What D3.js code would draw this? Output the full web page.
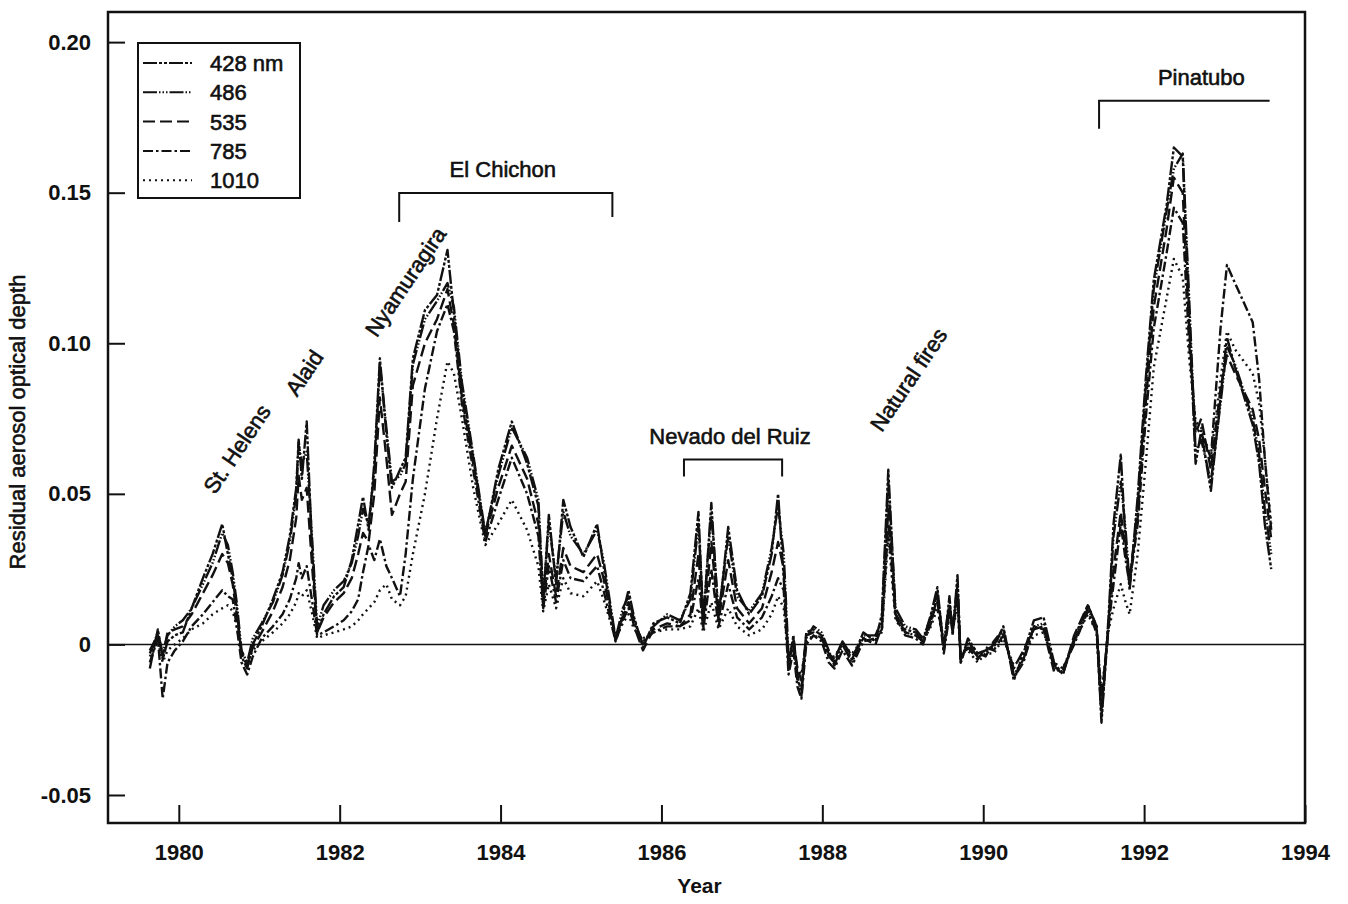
<!DOCTYPE html>
<html>
<head>
<meta charset="utf-8">
<script src="https://cdn.jsdelivr.net/npm/d3@7"></script>
<style>
  body { margin: 0; background: #fff; }
  text { font-family: "Liberation Sans", Arial, sans-serif; fill: #111; }
  .heavy { stroke: #111; stroke-width: 0.6px; }
</style>
</head>
<body>
<div id="aerosol-chart"></div>
<script>
// decimal years sampled along the record
const dates = [1979.64,1979.74,1979.80,1979.86,1979.95,1980.05,1980.16,1980.30,1980.42,1980.54,
  1980.61,1980.67,1980.72,1980.78,1980.85,1980.92,1981.03,1981.17,1981.29,1981.38,
  1981.46,1981.49,1981.53,1981.59,1981.66,1981.72,1981.80,1981.93,1982.05,1982.15,
  1982.23,1982.29,1982.36,1982.43,1982.50,1982.58,1982.65,1982.75,1982.82,1982.91,
  1983.06,1983.21,1983.34,1983.42,1983.52,1983.66,1983.81,1983.97,1984.14,1984.33,
  1984.47,1984.53,1984.60,1984.69,1984.78,1984.87,1985.03,1985.20,1985.28,1985.43,
  1985.52,1985.59,1985.66,1985.77,1985.90,1986.07,1986.23,1986.36,1986.46,1986.52,
  1986.62,1986.71,1986.83,1986.94,1987.09,1987.25,1987.37,1987.45,1987.52,1987.58,
  1987.64,1987.69,1987.74,1987.80,1987.89,1987.99,1988.08,1988.15,1988.25,1988.37,
  1988.51,1988.66,1988.74,1988.82,1988.91,1989.03,1989.16,1989.25,1989.35,1989.43,
  1989.51,1989.58,1989.62,1989.68,1989.72,1989.81,1989.93,1990.03,1990.13,1990.25,
  1990.38,1990.50,1990.63,1990.75,1990.88,1990.99,1991.13,1991.30,1991.41,1991.47,
  1991.56,1991.62,1991.71,1991.77,1991.82,1991.92,1992.02,1992.12,1992.28,1992.37,
  1992.48,1992.56,1992.64,1992.71,1992.83,1992.95,1993.03,1993.13,1993.35,1993.43,
  1993.50,1993.58];

const s428 = [-0.008,0.005,-0.005,0.001,0.003,0.004,0.012,0.022,0.030,0.040,
  0.030,0.022,0.012,-0.004,-0.008,0.000,0.006,0.015,0.024,0.036,
  0.052,0.068,0.055,0.074,0.030,0.004,0.010,0.016,0.019,0.028,
  0.040,0.049,0.038,0.060,0.095,0.070,0.052,0.058,0.062,0.095,
  0.111,0.116,0.131,0.110,0.085,0.062,0.036,0.058,0.074,0.060,
  0.046,0.014,0.043,0.020,0.048,0.039,0.029,0.040,0.026,0.001,
  0.010,0.018,0.009,-0.001,0.007,0.009,0.007,0.017,0.044,0.007,
  0.047,0.008,0.039,0.018,0.010,0.016,0.030,0.050,0.022,-0.008,
  0.003,-0.010,-0.017,0.004,0.005,0.003,-0.004,-0.006,0.001,-0.005,
  0.004,0.001,0.010,0.058,0.010,0.005,0.004,0.001,0.010,0.019,
  -0.002,0.016,0.003,0.023,-0.006,0.002,-0.003,-0.002,-0.001,0.006,
  -0.012,-0.003,0.008,0.009,-0.006,-0.010,0.002,0.013,0.006,-0.026,
  0.010,0.040,0.063,0.034,0.018,0.049,0.088,0.121,0.146,0.165,
  0.162,0.110,0.060,0.071,0.051,0.082,0.102,0.092,0.073,0.060,
  0.040,0.025];

const s486 = [-0.003,0.004,-0.003,0.003,0.006,0.008,0.012,0.020,0.027,0.037,
  0.033,0.024,0.014,-0.002,-0.006,0.002,0.007,0.014,0.023,0.034,
  0.050,0.067,0.060,0.064,0.034,0.006,0.013,0.018,0.021,0.027,
  0.036,0.045,0.040,0.057,0.093,0.072,0.054,0.056,0.060,0.093,
  0.108,0.114,0.120,0.112,0.087,0.063,0.037,0.056,0.072,0.062,
  0.048,0.016,0.040,0.022,0.044,0.036,0.030,0.038,0.028,0.002,
  0.012,0.016,0.008,0.000,0.006,0.010,0.008,0.015,0.040,0.009,
  0.044,0.010,0.036,0.016,0.011,0.017,0.032,0.046,0.030,-0.004,
  0.001,-0.012,-0.015,0.002,0.006,0.004,-0.002,-0.007,0.000,-0.006,
  0.003,0.003,0.008,0.054,0.012,0.006,0.005,0.002,0.009,0.017,
  0.000,0.014,0.005,0.020,-0.004,0.000,-0.004,-0.003,0.000,0.004,
  -0.010,-0.005,0.006,0.007,-0.008,-0.009,0.001,0.012,0.005,-0.022,
  0.008,0.036,0.054,0.038,0.020,0.046,0.085,0.118,0.144,0.158,
  0.163,0.115,0.064,0.068,0.054,0.080,0.099,0.093,0.075,0.063,
  0.045,0.030];

const s535 = [-0.002,0.003,-0.004,0.004,0.005,0.006,0.010,0.017,0.023,0.030,
  0.027,0.020,0.010,-0.003,-0.007,-0.001,0.004,0.011,0.019,0.028,
  0.042,0.056,0.048,0.052,0.025,0.004,0.009,0.014,0.017,0.022,
  0.030,0.037,0.034,0.050,0.082,0.062,0.043,0.050,0.054,0.086,
  0.100,0.108,0.118,0.106,0.082,0.060,0.036,0.052,0.066,0.055,
  0.040,0.013,0.030,0.016,0.032,0.026,0.024,0.030,0.022,0.002,
  0.009,0.014,0.006,-0.002,0.005,0.007,0.006,0.010,0.030,0.006,
  0.034,0.008,0.028,0.012,0.007,0.012,0.024,0.034,0.025,-0.006,
  0.002,-0.008,-0.012,0.003,0.004,0.002,-0.003,-0.005,0.001,-0.004,
  0.002,0.000,0.006,0.045,0.010,0.004,0.003,0.001,0.008,0.014,
  -0.001,0.012,0.004,0.016,-0.005,-0.001,-0.005,-0.001,-0.002,0.003,
  -0.008,-0.002,0.005,0.006,-0.007,-0.010,0.003,0.013,0.006,-0.018,
  0.006,0.025,0.044,0.030,0.022,0.042,0.080,0.112,0.138,0.155,
  0.150,0.105,0.070,0.075,0.058,0.085,0.096,0.090,0.078,0.068,
  0.052,0.035];

const s785 = [-0.006,0.002,-0.018,-0.006,-0.002,0.001,0.006,0.010,0.014,0.018,
  0.016,0.015,0.006,-0.006,-0.010,-0.004,0.002,0.006,0.010,0.015,
  0.022,0.027,0.022,0.026,0.014,0.003,0.004,0.006,0.008,0.011,
  0.015,0.024,0.033,0.028,0.035,0.026,0.022,0.016,0.030,0.055,
  0.085,0.104,0.113,0.104,0.080,0.058,0.034,0.048,0.062,0.050,
  0.036,0.012,0.026,0.014,0.028,0.022,0.021,0.026,0.018,0.001,
  0.008,0.012,0.007,0.001,0.004,0.006,0.006,0.008,0.022,0.005,
  0.025,0.006,0.020,0.009,0.005,0.009,0.016,0.022,0.018,-0.010,
  -0.002,-0.014,-0.018,0.000,0.003,0.001,-0.006,-0.008,-0.002,-0.007,
  0.001,0.002,0.005,0.040,0.009,0.003,0.002,0.000,0.007,0.016,
  -0.003,0.010,0.006,0.018,-0.006,0.001,-0.003,-0.004,0.001,0.005,
  -0.011,-0.006,0.006,0.005,-0.009,-0.008,0.000,0.011,0.004,-0.024,
  0.007,0.020,0.040,0.028,0.020,0.040,0.075,0.105,0.130,0.145,
  0.140,0.100,0.072,0.070,0.062,0.105,0.126,0.120,0.107,0.088,
  0.062,0.038];

const s1010 = [-0.004,0.001,-0.006,-0.002,0.000,0.002,0.005,0.007,0.010,0.012,
  0.013,0.011,0.006,-0.003,-0.006,-0.002,0.001,0.004,0.007,0.010,
  0.014,0.017,0.016,0.018,0.010,0.002,0.003,0.004,0.005,0.006,
  0.008,0.010,0.012,0.014,0.018,0.020,0.015,0.013,0.016,0.030,
  0.050,0.075,0.094,0.090,0.075,0.052,0.033,0.040,0.048,0.038,
  0.026,0.011,0.020,0.012,0.022,0.017,0.016,0.021,0.015,0.002,
  0.007,0.010,0.005,0.002,0.004,0.005,0.005,0.006,0.012,0.004,
  0.014,0.005,0.012,0.006,0.003,0.005,0.010,0.016,0.012,-0.005,
  -0.001,-0.008,-0.010,0.001,0.003,0.002,-0.004,-0.004,0.000,-0.003,
  0.002,0.003,0.004,0.036,0.008,0.004,0.003,0.001,0.006,0.012,
  0.000,0.009,0.005,0.012,-0.003,-0.002,-0.006,-0.003,-0.003,0.002,
  -0.007,-0.004,0.003,0.004,-0.006,-0.008,0.001,0.010,0.004,-0.016,
  0.005,0.012,0.020,0.014,0.010,0.030,0.060,0.092,0.115,0.128,
  0.122,0.095,0.074,0.072,0.062,0.088,0.104,0.098,0.090,0.080,
  0.062,0.040];

const seriesNames = ["428 nm", "486", "535", "785", "1010"];
const seriesValues = [s428, s486, s535, s785, s1010];
const dashStyles = ["14,2,3,2,3,2", "14,2,1.5,2,1.5,2,1.5,2", "12,5", "10,3,2.5,3", "2,4"];

const yTicks = [-0.05, 0, 0.05, 0.10, 0.15, 0.20];
const yTickLabels = ["-0.05", "0", "0.05", "0.10", "0.15", "0.20"];
const xTicks = [1980, 1982, 1984, 1986, 1988, 1990, 1992, 1994];

// eruption brackets: [label, start year, end year, level, drop left, drop right]
const brackets = [
  ["El Chichon", 1982.74, 1985.39, 0.1499, 29, 24],
  ["Nevado del Ruiz", 1986.28, 1987.50, 0.0614, 17, 17],
  ["Pinatubo", 1991.44, 1993.56, 0.1805, 28, 0]
];
// rotated labels: [label, year, value]
const tiltedLabels = [
  ["St. Helens", 1980.45, 0.0495],
  ["Alaid", 1981.47, 0.0820],
  ["Nyamuragira", 1982.46, 0.1017],
  ["Natural fires", 1988.74, 0.0702]
];

const margin = { top: 12, right: 43, bottom: 81, left: 108 },
    width = 1348 - margin.left - margin.right,
    height = 904 - margin.top - margin.bottom;

const svg = d3.select("#aerosol-chart")
    .append("svg")
    .attr("width", 1348)
    .attr("height", 904)
    .append("g")
    .attr("transform", `translate(${margin.left},${margin.top})`);

const x = d3.scaleLinear().domain([1979.12, 1994.0]).range([0, width]);
const y = d3.scaleLinear().domain([-0.0593, 0.21]).range([height, 0]);

// zero reference line
svg.append("line")
    .attr("x1", 0).attr("x2", width)
    .attr("y1", y(0)).attr("y2", y(0))
    .attr("stroke", "#111").attr("stroke-width", 1.5);

// axes with inward ticks
const yAxis = svg.append("g")
    .call(d3.axisLeft(y).tickValues(yTicks).tickSize(-17).tickPadding(17)
        .tickFormat((d, i) => yTickLabels[i]));
yAxis.select(".domain").remove();
yAxis.selectAll("line").attr("stroke", "#111").attr("stroke-width", 2);
yAxis.selectAll("text")
    .style("font-family", "Liberation Sans, Arial, sans-serif")
    .style("font-size", "22px")
    .style("font-weight", "bold")
    .attr("fill", "#111");

const xAxis = svg.append("g")
    .attr("transform", `translate(0,${height})`)
    .call(d3.axisBottom(x).tickValues(xTicks).tickSize(-18).tickPadding(21)
        .tickFormat(d3.format("d")));
xAxis.select(".domain").remove();
xAxis.selectAll("line").attr("stroke", "#111").attr("stroke-width", 2);
xAxis.selectAll("text")
    .style("font-family", "Liberation Sans, Arial, sans-serif")
    .style("font-size", "22px")
    .style("font-weight", "bold")
    .attr("fill", "#111");

// frame
svg.append("rect")
    .attr("x", 0).attr("y", 0)
    .attr("width", width).attr("height", height)
    .attr("fill", "none")
    .attr("stroke", "#111")
    .attr("stroke-width", 2.5);

// the five wavelength curves
const line = d3.line()
    .x(d => x(d[0]))
    .y(d => y(d[1]));

svg.append("g")
    .selectAll("path")
    .data(seriesValues)
    .join("path")
    .attr("d", vals => line(dates.map((t, i) => [t, vals[i]])))
    .attr("fill", "none")
    .attr("stroke", "#111")
    .attr("stroke-width", 2.4)
    .attr("stroke-linejoin", "round")
    .attr("stroke-dasharray", (d, i) => dashStyles[i]);

// axis titles
svg.append("text")
    .attr("x", width / 2 - 7)
    .attr("y", height + 70)
    .style("text-anchor", "middle")
    .style("font-size", "21px")
    .style("font-weight", "bold")
    .text("Year");

svg.append("text")
    .attr("class", "heavy")
    .attr("transform", "rotate(-90)")
    .attr("x", -(422 - margin.top))
    .attr("y", -83)
    .style("text-anchor", "middle")
    .style("font-size", "22px")
    .text("Residual aerosol optical depth");

// legend
const legend = svg.append("g").attr("transform", "translate(30,31)");
legend.append("rect")
    .attr("width", 162).attr("height", 155)
    .attr("fill", "#fff")
    .attr("stroke", "#111")
    .attr("stroke-width", 2);
const legendRow = legend.selectAll(".legend-row")
    .data(seriesNames)
    .join("g")
    .attr("class", "legend-row")
    .attr("transform", (d, i) => `translate(0,${20 + i * 29.3})`);
legendRow.append("line")
    .attr("x1", 5).attr("x2", 54)
    .attr("stroke", "#111")
    .attr("stroke-width", 2)
    .attr("stroke-dasharray", (d, i) => dashStyles[i]);
legendRow.append("text")
    .attr("class", "heavy")
    .attr("x", 72)
    .attr("dy", "0.36em")
    .style("font-size", "22px")
    .text(d => d);

// eruption brackets
const br = svg.append("g").selectAll("g").data(brackets).join("g");
br.append("path")
    .attr("d", d => {
        const x0 = x(d[1]), x1 = x(d[2]), yy = y(d[3]);
        return `M${x0},${yy + d[4]}V${yy}H${x1}` + (d[5] ? `V${yy + d[5]}` : "");
    })
    .attr("fill", "none")
    .attr("stroke", "#111")
    .attr("stroke-width", 2);
br.append("text")
    .attr("class", "heavy")
    .attr("x", d => (x(d[1]) + x(d[2])) / 2 + (d[0] === "Pinatubo" ? 17 : -3))
    .attr("y", d => y(d[3]) - 16)
    .style("text-anchor", "middle")
    .style("font-size", "22px")
    .text(d => d[0]);

// rotated event labels
svg.append("g").selectAll("text")
    .data(tiltedLabels)
    .join("text")
    .attr("class", "heavy")
    .attr("transform", d => `translate(${x(d[1])},${y(d[2])}) rotate(-56)`)
    .style("font-size", "22px")
    .text(d => d[0]);
</script>
</body>
</html>
